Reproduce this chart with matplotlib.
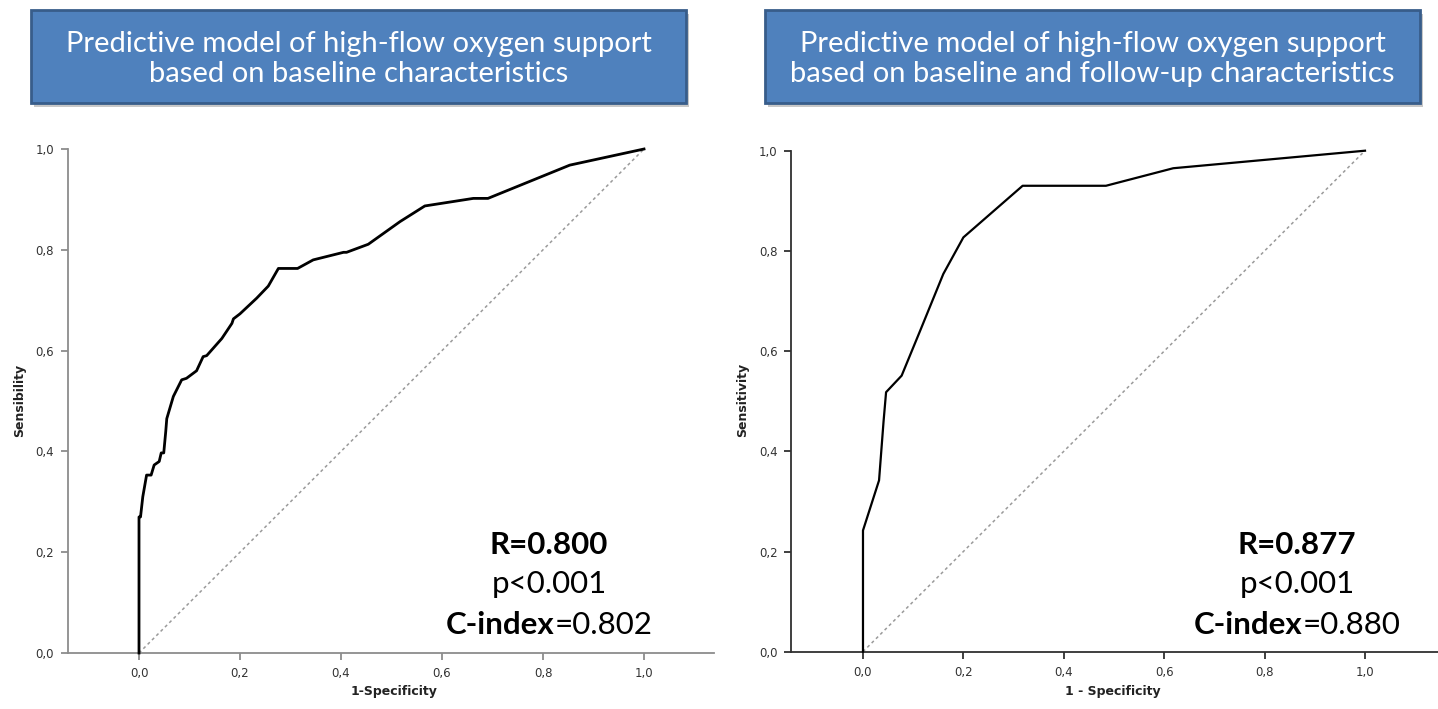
import matplotlib
matplotlib.use("Agg")
import matplotlib.pyplot as plt
from matplotlib.patches import Rectangle
from matplotlib.ticker import FuncFormatter

# ROC curve of the baseline model (1-specificity, sensitivity)
base_fpr = [0.0, 0.0, 0.003, 0.0075, 0.015, 0.024, 0.030, 0.040, 0.044, 0.049,
            0.053, 0.055, 0.068, 0.0845, 0.094, 0.114, 0.127, 0.134, 0.164,
            0.184, 0.187, 0.200, 0.233, 0.256, 0.276, 0.314, 0.345, 0.405,
            0.411, 0.454, 0.517, 0.566, 0.662, 0.691, 0.853, 1.0]
base_tpr = [0.0, 0.27, 0.27, 0.31, 0.353, 0.353, 0.373, 0.38, 0.397, 0.397,
            0.44, 0.465, 0.509, 0.542, 0.545, 0.56, 0.588, 0.59, 0.624,
            0.654, 0.663, 0.673, 0.704, 0.728, 0.763, 0.763, 0.78, 0.795,
            0.795, 0.811, 0.856, 0.887, 0.902, 0.902, 0.968, 1.0]

# ROC curve of the baseline + follow-up model
follow_fpr = [0.0, 0.0, 0.032, 0.041, 0.046, 0.077, 0.114, 0.160, 0.200,
              0.318, 0.484, 0.618, 1.0]
follow_tpr = [0.0, 0.242, 0.342, 0.46, 0.518, 0.551, 0.641, 0.754, 0.827,
              0.93, 0.93, 0.965, 1.0]

titles = ["Predictive model of high-flow oxygen support\nbased on baseline characteristics",
          "Predictive model of high-flow oxygen support\nbased on baseline and follow-up characteristics"]
ylabels = ["Sensibility", "Sensitivity"]
xlabels = ["1-Specificity", "1 - Specificity"]
r_values = ["0.800", "0.877"]
p_values = ["p<0.001", "p<0.001"]
c_index = ["0.802", "0.880"]
ticks = [0.0, 0.2, 0.4, 0.6, 0.8, 1.0]

W, H = 1438, 709
fig = plt.figure(figsize=(W / 100, H / 100), dpi=100)
fig.patch.set_facecolor("white")

def px(x0, y0, x1, y1):
    # pixel box (top-left origin) -> figure fraction rect
    return [x0 / W, 1 - y1 / H, (x1 - x0) / W, (y1 - y0) / H]

comma = FuncFormatter(lambda v, pos: f"{v:.1f}".replace(".", ","))

panels = [
    dict(ax=px(68, 149, 714, 653), xlim=(-0.1406, 1.1386), spine="#8c8c8c",
         fpr=base_fpr, tpr=base_tpr, lw=2.0, box=(31, 10, 686, 103),
         txt_x=549, ylab_x=20, xlab_x=394),
    dict(ax=px(791.5, 150.7, 1438, 651.7), xlim=(-0.1424, 1.1454), spine="#303030",
         fpr=follow_fpr, tpr=follow_tpr, lw=1.6, box=(765, 10, 1420, 103),
         txt_x=1297, ylab_x=743, xlab_x=1113),
]

r = fig.canvas.get_renderer()

for i, p in enumerate(panels):
    ax = fig.add_axes(p["ax"])
    ax.plot(p["fpr"], p["tpr"], color="black", lw=p["lw"], solid_joinstyle="round",
            clip_on=False, zorder=3)
    ax.plot([0, 1], [0, 1], color="#9a9a9a", lw=1.1, linestyle=(0, (2, 2)), zorder=2)
    ax.set_xlim(*p["xlim"])
    ax.set_ylim(0, 1.0)
    for s in ["top", "right"]:
        ax.spines[s].set_visible(False)
    for s in ["left", "bottom"]:
        ax.spines[s].set_color(p["spine"])
        ax.spines[s].set_linewidth(1.3)
    ax.set_xticks(ticks)
    ax.set_yticks(ticks)
    ax.xaxis.set_major_formatter(comma)
    ax.yaxis.set_major_formatter(comma)
    ax.tick_params(direction="out", length=5, width=1.3, color=p["spine"],
                   labelsize=8.5, labelcolor="#333333", pad=5)

    # header box with shadow
    x0, y0, x1, y1 = p["box"]
    fig.patches.append(Rectangle((x0 / W + 0.002, 1 - y1 / H - 0.005), (x1 - x0) / W,
                                 (y1 - y0) / H, transform=fig.transFigure,
                                 facecolor="#c8c8c8", edgecolor="none", zorder=0))
    fig.patches.append(Rectangle((x0 / W, 1 - y1 / H), (x1 - x0) / W, (y1 - y0) / H,
                                 transform=fig.transFigure, facecolor="#4f81bd",
                                 edgecolor="#385d8a", linewidth=2, zorder=1))
    fig.text((x0 + x1) / 2 / W, 1 - 59 / H, titles[i], color="white",
             ha="center", va="center", fontsize=21, family="Lato", linespacing=1.15)

    # axis titles
    fig.text(p["ylab_x"] / W, 1 - 400 / H, ylabels[i], rotation=90, ha="center",
             va="center", fontsize=9, fontweight="bold", color="#222222")
    fig.text(p["xlab_x"] / W, 1 - 692 / H, xlabels[i], ha="center", va="center",
             fontsize=9, fontweight="bold", color="#222222")

    # statistics
    tx = p["txt_x"] / W
    fig.text(tx, 1 - 545 / H, f"R={r_values[i]}", ha="center", va="center",
             fontsize=22.5, fontweight="bold", family="Lato")
    fig.text(tx, 1 - 584 / H, p_values[i], ha="center", va="center",
             fontsize=22.5, family="Lato")
    # C-index: bold label + regular value placed side by side
    lab = fig.text(0, 0, "C-index", fontsize=22.5, fontweight="bold", family="Lato",
                   va="center")
    val = fig.text(0, 0, f"={c_index[i]}", fontsize=22.5, family="Lato", va="center")
    wl = lab.get_window_extent(r).width / W
    wv = val.get_window_extent(r).width / W
    start = tx - (wl + wv) / 2
    lab.set_position((start, 1 - 625 / H))
    val.set_position((start + wl, 1 - 625 / H))

fig.savefig("out.png", dpi=100)
